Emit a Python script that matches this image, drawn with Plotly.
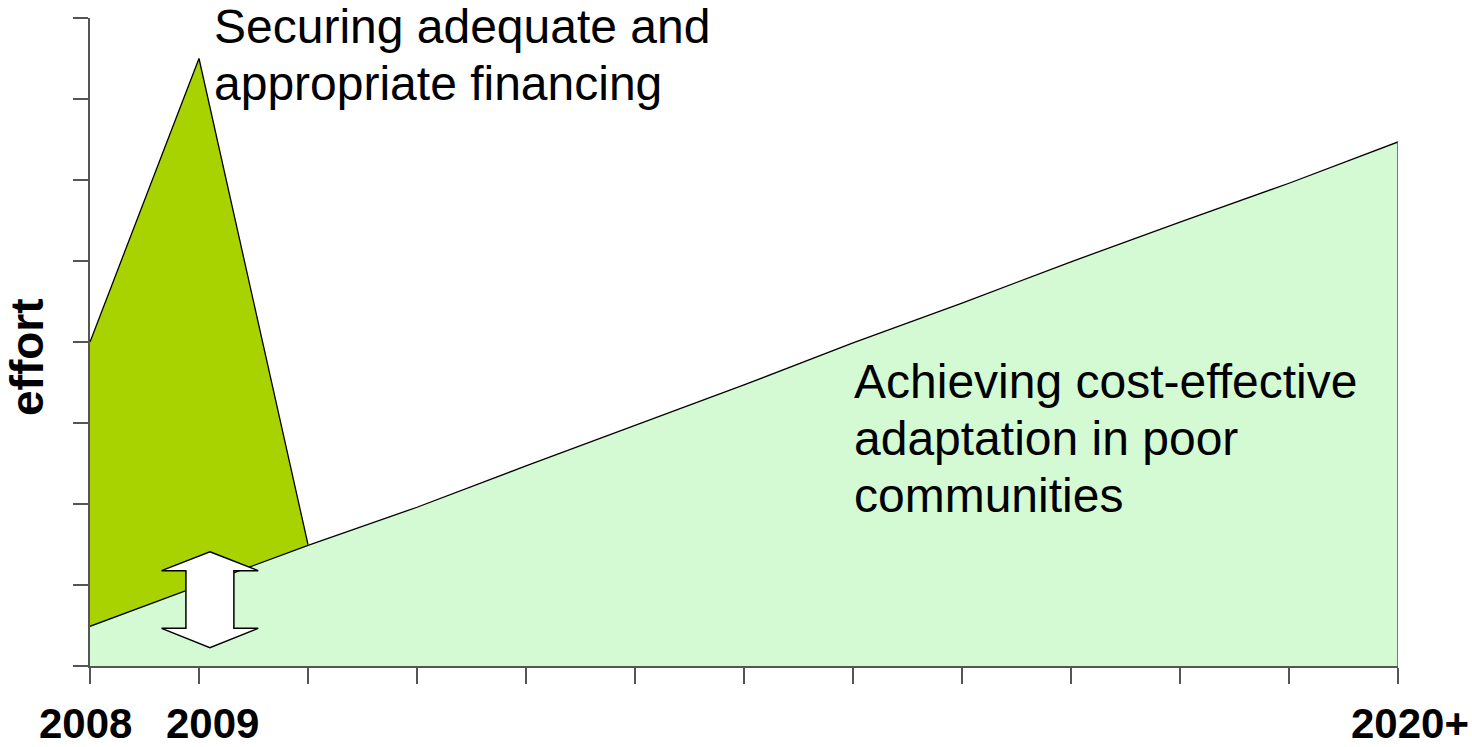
import plotly.graph_objects as go

# ---- data ----
period_labels = ["2008", "2009", "", "", "", "", "", "", "", "", "", "", "2020+"]
adaptation_effort = [0.49, 0.99, 1.49, 1.96, 2.47, 2.97, 3.47, 3.99, 4.48, 4.99, 5.48, 5.96, 6.47]
financing_effort = [4.0, 7.5, 1.5]
y_ticks = [0, 1, 2, 3, 4, 5, 6, 7, 8]

x_idx = list(range(len(period_labels)))

W, H = 1472, 747
ML, MT = 90, 18
MR = W - 1398
MB = H - 666
PW, PH = W - ML - MR, H - MT - MB

def py(pix):  # page pixel -> paper y
    return (666 - pix) / PH

def px(pix):  # page pixel -> paper x
    return (pix - 90) / PW

FONT = "Liberation Sans, Arial, sans-serif"
LIGHT = "#D4FAD4"
DARK = "#A9D300"
AXIS = "#555555"

fig = go.Figure()

fig.add_trace(go.Scatter(
    x=x_idx[:len(financing_effort)], y=financing_effort,
    mode="lines", fill="tozeroy", fillcolor=DARK,
    line=dict(color="black", width=1.3), hoverinfo="skip", showlegend=False))

fig.add_trace(go.Scatter(
    x=x_idx, y=adaptation_effort,
    mode="lines", fill="tozeroy", fillcolor=LIGHT,
    line=dict(color="black", width=1.3), hoverinfo="skip", showlegend=False))

# right edge of the light-green area
fig.add_shape(type="line", xref="x", yref="y",
              x0=x_idx[-1], x1=x_idx[-1], y0=0, y1=adaptation_effort[-1],
              line=dict(color=AXIS, width=1.5))

# double-headed arrow (decoration), in data units around x=1.1
cx = 1.10
hw, sw = 0.443, 0.22
top, sh1, sh2, bot = 1.411, 1.177, 0.465, 0.226
path = (f"M {cx},{top} L {cx+hw},{sh1} L {cx+sw},{sh1} L {cx+sw},{sh2} "
        f"L {cx+hw},{sh2} L {cx},{bot} L {cx-hw},{sh2} L {cx-sw},{sh2} "
        f"L {cx-sw},{sh1} L {cx-hw},{sh1} Z")
fig.add_shape(type="path", xref="x", yref="y", path=path,
              fillcolor="white", line=dict(color="black", width=1.5), layer="above")

# x labels
shifts = {"2008": -5, "2009": 13, "2020+": 11.5}
for i, lab in enumerate(period_labels):
    if lab:
        fig.add_annotation(x=i, xref="x", y=py(723.4), yref="paper",
                           text=f"<b>{lab}</b>", showarrow=False,
                           xanchor="center", yanchor="middle", xshift=shifts[lab],
                           font=dict(family=FONT, size=42, color="black"))

# y title
fig.add_annotation(x=0, xref="paper", xshift=-63, y=py(357), yref="paper",
                   text="<b>effort</b>", textangle=-90, showarrow=False,
                   xanchor="center", yanchor="middle",
                   font=dict(family=FONT, size=46, color="black"))

# text labels
for txt, mid in [("Securing adequate and", 27.0), ("appropriate financing", 83.5)]:
    fig.add_annotation(x=px(212), xref="paper", y=py(mid), yref="paper",
                       text=txt, showarrow=False, xanchor="left", yanchor="middle",
                       font=dict(family=FONT, size=48, color="black"))
for txt, mid in [("Achieving cost-effective", 381.4), ("adaptation in poor", 438.4),
                 ("communities", 495.4)]:
    fig.add_annotation(x=px(852), xref="paper", y=py(mid), yref="paper",
                       text=txt, showarrow=False, xanchor="left", yanchor="middle",
                       font=dict(family=FONT, size=48, color="black"))

fig.update_layout(
    width=W, height=H,
    margin=dict(l=ML, r=MR, t=MT, b=MB),
    paper_bgcolor="white", plot_bgcolor="white",
    showlegend=False,
    xaxis=dict(range=[0, len(period_labels) - 1], tickvals=x_idx, showticklabels=False,
               ticks="outside", ticklen=16, tickcolor=AXIS, tickwidth=1.5,
               showline=True, linecolor=AXIS, linewidth=1.5,
               showgrid=False, zeroline=False, fixedrange=True),
    yaxis=dict(range=[y_ticks[0], y_ticks[-1]], tickvals=y_ticks, showticklabels=False,
               ticks="outside", ticklen=15, tickcolor=AXIS, tickwidth=1.5,
               showline=True, linecolor=AXIS, linewidth=1.5,
               showgrid=False, zeroline=False, fixedrange=True),
)

fig.write_html("out.html", config={"displayModeBar": False},
               post_script="document.body.style.margin='0';document.body.style.overflow='hidden';")
